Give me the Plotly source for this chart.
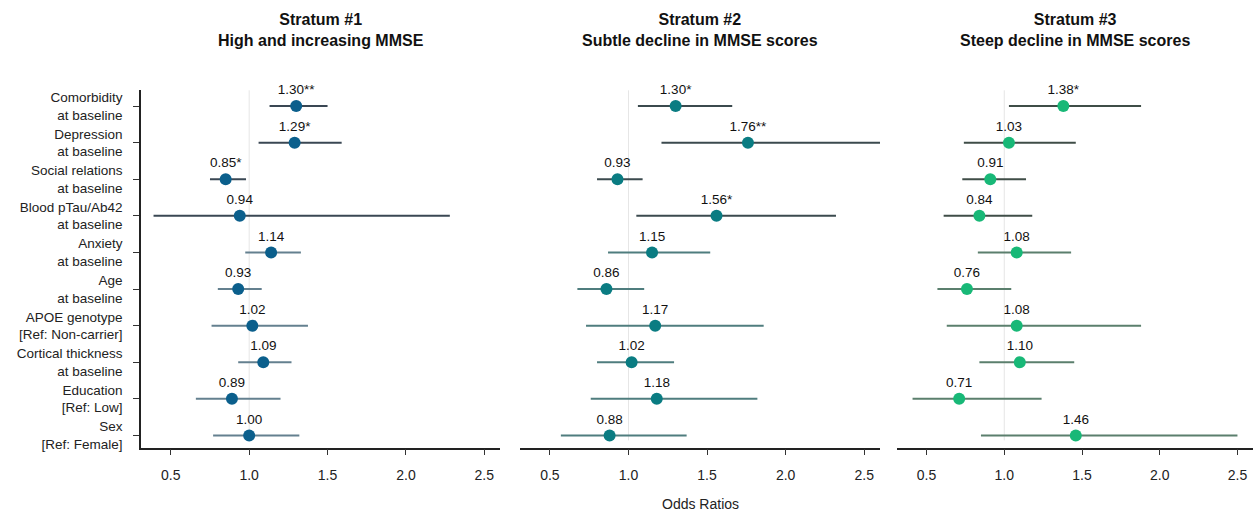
import plotly.graph_objects as go

# ---------------- data ----------------
covariates = [
    "Comorbidity<br>at baseline",
    "Depression<br>at baseline",
    "Social relations<br>at baseline",
    "Blood pTau/Ab42<br>at baseline",
    "Anxiety<br>at baseline",
    "Age<br>at baseline",
    "APOE genotype<br>[Ref: Non-carrier]",
    "Cortical thickness<br>at baseline",
    "Education<br>[Ref: Low]",
    "Sex<br>[Ref: Female]",
]

panel_titles = [
    "Stratum #1<br>High and increasing MMSE",
    "Stratum #2<br>Subtle decline in MMSE scores",
    "Stratum #3<br>Steep decline in MMSE scores",
]

s1_or = [1.30, 1.29, 0.85, 0.94, 1.14, 0.93, 1.02, 1.09, 0.89, 1.00]
s1_lo = [1.13, 1.06, 0.75, 0.39, 0.975, 0.80, 0.76, 0.93, 0.66, 0.77]
s1_hi = [1.50, 1.59, 0.98, 2.28, 1.33, 1.08, 1.375, 1.27, 1.20, 1.32]
s1_sig = ["**", "*", "*", "", "", "", "", "", "", ""]

s2_or = [1.30, 1.76, 0.93, 1.56, 1.15, 0.86, 1.17, 1.02, 1.18, 0.88]
s2_lo = [1.06, 1.21, 0.80, 1.05, 0.87, 0.675, 0.73, 0.80, 0.76, 0.57]
s2_hi = [1.66, 2.65, 1.09, 2.32, 1.52, 1.10, 1.86, 1.29, 1.82, 1.37]
s2_sig = ["*", "**", "", "*", "", "", "", "", "", ""]

s3_or = [1.38, 1.03, 0.91, 0.84, 1.08, 0.76, 1.08, 1.10, 0.71, 1.46]
s3_lo = [1.03, 0.74, 0.73, 0.61, 0.83, 0.57, 0.63, 0.84, 0.41, 0.85]
s3_hi = [1.88, 1.46, 1.14, 1.18, 1.43, 1.045, 1.88, 1.45, 1.24, 2.50]
s3_sig = ["*", "", "", "", "", "", "", "", "", ""]

x_ticks = [0.5, 1.0, 1.5, 2.0, 2.5]
x_title = "Odds Ratios"

# ---------------- style ----------------
W, H = 1253, 519
FONT = "Liberation Sans, Arial, Helvetica, sans-serif"
marker_colors = ["#0b5f8c", "#0a7c82", "#18b877"]
dark_line = ["#3a4753", "#3b4a4e", "#3f4d47"]
light_line = ["#64808f", "#4f7d7e", "#5b7f6d"]
domains_x = [(141 / W, 500 / W), (520 / W, 880 / W), (897 / W, 1.0)]
y_dom = ((519 - 451) / H, (519 - 91) / H)
x_range = [0.31, 2.6]
n = len(covariates)
y_pos = [n - 1 - i for i in range(n)]
y_range = [-0.33, n - 1 + 0.43]

fig = go.Figure()
panels = [
    (s1_or, s1_lo, s1_hi, s1_sig),
    (s2_or, s2_lo, s2_hi, s2_sig),
    (s3_or, s3_lo, s3_hi, s3_sig),
]

for p, (ors, los, his, sigs) in enumerate(panels):
    xa = "x" if p == 0 else f"x{p+1}"
    ya = "y" if p == 0 else f"y{p+1}"
    for i in range(n):
        col = dark_line[p] if i < 4 else light_line[p]
        fig.add_trace(go.Scatter(
            x=[los[i], his[i]], y=[y_pos[i], y_pos[i]], mode="lines",
            line=dict(color=col, width=2), xaxis=xa, yaxis=ya,
            showlegend=False, hoverinfo="skip"))
    fig.add_trace(go.Scatter(
        x=ors, y=y_pos, mode="markers+text",
        marker=dict(color=marker_colors[p], size=12),
        text=[f"{v:.2f}{s}" for v, s in zip(ors, sigs)],
        textposition="top center",
        textfont=dict(family=FONT, size=13.5, color="#111"),
        xaxis=xa, yaxis=ya, showlegend=False, cliponaxis=False))
    # reference line at OR = 1
    fig.add_shape(type="line", x0=1, x1=1, y0=0.02, y1=1,
                  xref=xa, yref=f"{ya} domain",
                  line=dict(color="#e6e6e6", width=1), layer="below")
    # panel title
    fig.add_annotation(
        x=(domains_x[p][0] + domains_x[p][1]) / 2, y=(H - 30) / H,
        xref="paper", yref="paper", xanchor="center", yanchor="middle",
        showarrow=False, align="center",
        text=f"<b>{panel_titles[p]}</b>",
        font=dict(family=FONT, size=16, color="#111"))

axis_common = dict(
    range=x_range, tickvals=x_ticks, ticktext=[f"{t:.1f}" for t in x_ticks],
    showgrid=False, zeroline=False, showline=True, linecolor="#222",
    linewidth=1.5, ticks="outside", ticklen=6, tickcolor="#333",
    ticklabelstandoff=8,
    tickfont=dict(family=FONT, size=14, color="#222"),
)

layout = dict(
    width=W, height=H, margin=dict(l=0, r=0, t=0, b=0),
    plot_bgcolor="white", paper_bgcolor="white",
    font=dict(family=FONT),
)
for p in range(3):
    sx = "" if p == 0 else str(p + 1)
    layout[f"xaxis{sx}"] = dict(axis_common, domain=list(domains_x[p]),
                                anchor=f"y{sx}")
    yax = dict(domain=list(y_dom), range=y_range, anchor=f"x{sx}",
               showgrid=False, zeroline=False)
    if p == 0:
        yax.update(tickvals=y_pos, ticktext=covariates, showline=True,
                   linecolor="#222", linewidth=1.5, ticks="outside",
                   ticklen=6, tickcolor="#333", ticklabelstandoff=8,
                   tickfont=dict(family=FONT, size=13.5, color="#222"))
    else:
        yax.update(showticklabels=False, showline=False, ticks="")
    layout[f"yaxis{sx}"] = yax

fig.update_layout(**layout)
fig.add_annotation(x=(domains_x[1][0] + domains_x[1][1]) / 2,
                   y=(H - 508) / H, xref="paper", yref="paper",
                   xanchor="center", yanchor="middle",
                   showarrow=False, text=x_title,
                   font=dict(family=FONT, size=14, color="#222"))

fig.write_html("out.html", config={"displayModeBar": False},
               post_script="document.body.style.margin='0';"
                           "document.body.style.overflow='hidden';")
